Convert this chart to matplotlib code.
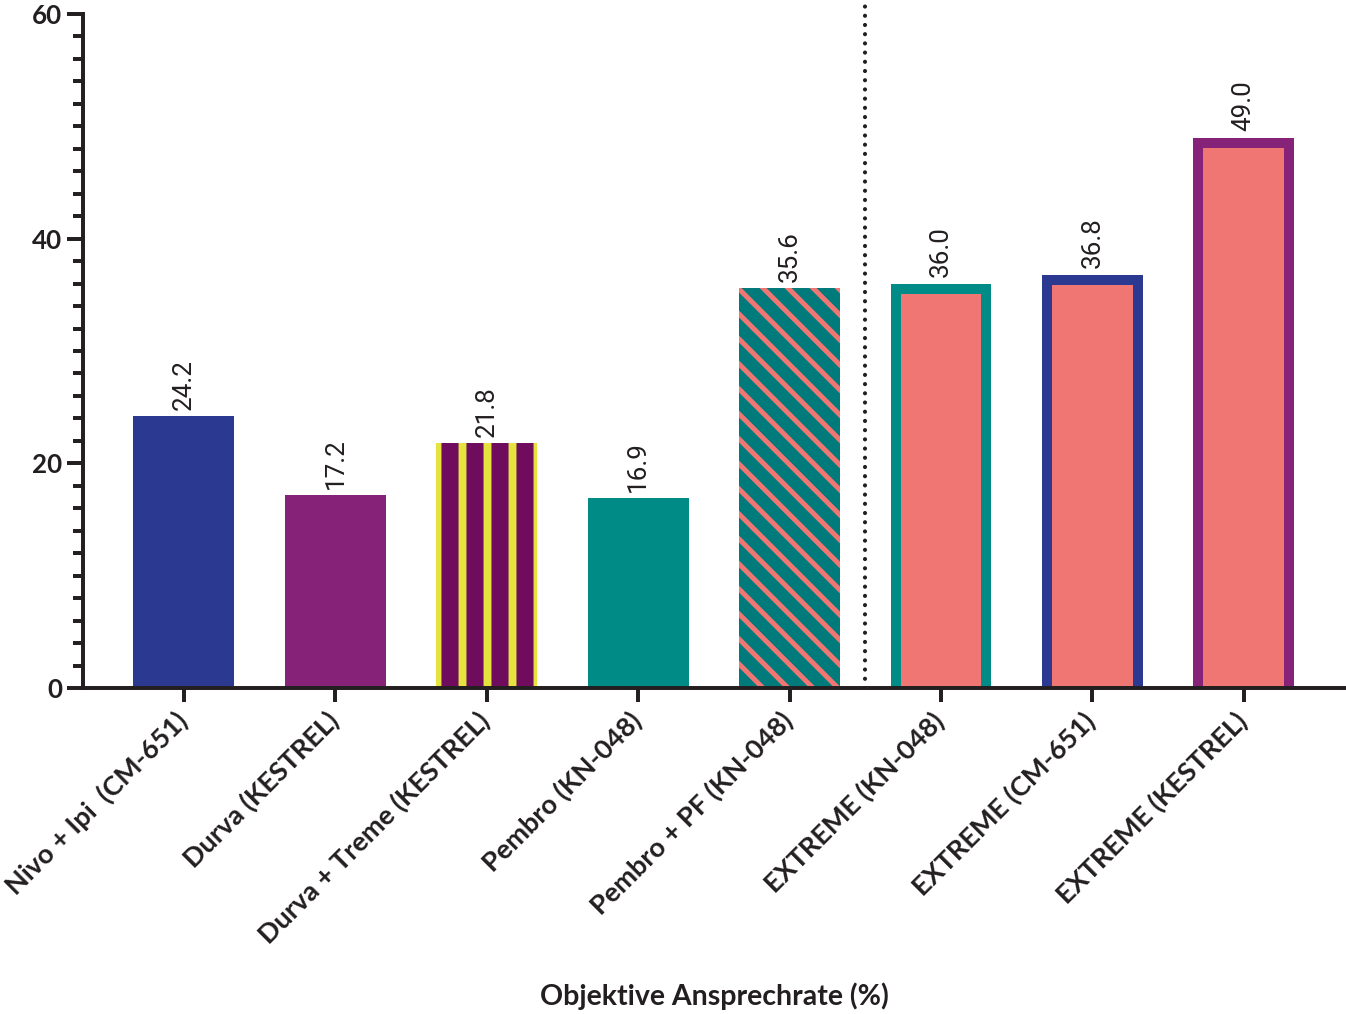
import numpy as np
import matplotlib
matplotlib.use('Agg')
import matplotlib.pyplot as plt
import matplotlib.transforms as mtransforms

# data
labels = ['Nivo + Ipi  (CM-651)', 'Durva (KESTREL)', 'Durva + Treme (KESTREL)',
          'Pembro (KN-048)', 'Pembro + PF (KN-048)', 'EXTREME (KN-048)',
          'EXTREME (CM-651)', 'EXTREME (KESTREL)']
values = [24.2, 17.2, 21.8, 16.9, 35.6, 36.0, 36.8, 49.0]
value_text = ['24.2', '17.2', '21.8', '16.9', '35.6', '36.0', '36.8', '49.0']

navy = '#2B3990'
purple = '#862378'
dark_purple = '#6F0C5E'
yellow = '#E5E43F'
teal = '#008B87'
teal_dark = '#007A7A'
salmon = '#EF7672'
ink = '#231F20'

DPI = 150
plt.rcParams['hatch.linewidth'] = 3.8
fig = plt.figure(figsize=(1346 / DPI, 1014 / DPI), dpi=DPI)
ax = fig.add_axes([83 / 1346, 1 - 688 / 1014, 1 - 83 / 1346, (688 - 14) / 1014])

x = np.arange(len(values))
w = 0.667
ax.set_xlim(-0.667, 7.675)
ax.set_ylim(0, 60)

# plain / patterned bars
ax.bar(x[0], values[0], w, color=navy, linewidth=0)
ax.bar(x[1], values[1], w, color=purple, linewidth=0)
ax.bar(x[2], values[2], w, facecolor=dark_purple, edgecolor=yellow, hatch='|', linewidth=0)
ax.bar(x[3], values[3], w, color=teal, linewidth=0)
with plt.rc_context({'hatch.linewidth': 2.4}):
    ax.bar(x[4], values[4], w, facecolor=teal_dark, edgecolor=salmon, hatch='\\\\', linewidth=0)

# outlined EXTREME bars (outer edge sits on the value, bottom edge hidden below axis)
edge_px = 10
lw_pt = edge_px * 72 / DPI
dx = edge_px / (ax.bbox.width / (ax.get_xlim()[1] - ax.get_xlim()[0]))
dy = (edge_px / 2) / (ax.bbox.height / 60)
for i, ec in zip([5, 6, 7], [teal, navy, purple]):
    ax.bar(x[i], values[i] + dy, w - dx, bottom=-2 * dy,
           facecolor=salmon, edgecolor=ec, linewidth=lw_pt)

# value labels
for xi, v, t in zip(x, values, value_text):
    ax.annotate(t, (xi, v), xytext=(0, 3), textcoords='offset points',
                rotation=90, ha='center', va='bottom', fontsize=12.5,
                family='Roboto', color=ink)

# dotted separator
ax.plot([4.5, 4.5], [0, 61.2], color=ink, linewidth=2.0,
        linestyle=(0, (0.01, 2.2)), dash_capstyle='round', solid_capstyle='round',
        clip_on=False)

# axes styling
for s in ['top', 'right']:
    ax.spines[s].set_visible(False)
for s in ['left', 'bottom']:
    ax.spines[s].set_linewidth(1.9)
    ax.spines[s].set_color(ink)
    ax.spines[s].set_zorder(5)

ax.set_yticks([0, 20, 40, 60])
ax.set_yticks(np.arange(0, 61, 2), minor=True)
ax.tick_params(axis='y', which='major', length=7.5, width=1.9, color=ink, pad=2.5)
ax.tick_params(axis='y', which='minor', length=5, width=1.9, color=ink)
ax.set_yticklabels(['0', '20', '40', '60'], fontsize=12.5, fontweight='bold',
                   family='Lato', color=ink)

ax.set_xticks(x)
ax.tick_params(axis='x', length=6.5, width=1.9, color=ink, pad=2)
ax.set_xticklabels(labels, rotation=45, ha='right', fontsize=13,
                   fontweight='bold', family='Lato', color=ink)
off = mtransforms.ScaledTranslation(8 / DPI, -2 / DPI, fig.dpi_scale_trans)
for lab in ax.get_xticklabels():
    lab.set_transform(lab.get_transform() + off)

ax.set_xlabel('Objektive Ansprechrate (%)', fontsize=13.7, fontweight='bold',
              family='Lato', color=ink)
ax.xaxis.set_label_coords(0.5, -0.458)
ax.xaxis.label.set_va('center')

fig.savefig('out.png', dpi=DPI)
